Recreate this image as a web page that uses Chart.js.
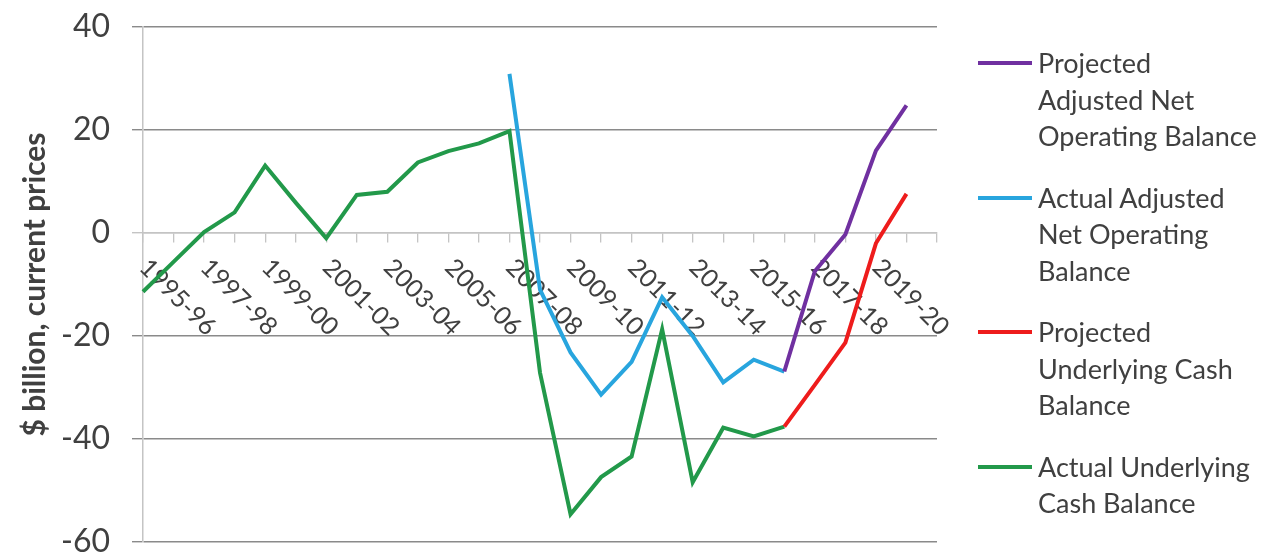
<!DOCTYPE html>
<html>
<head>
<meta charset="utf-8">
<script src="https://cdn.jsdelivr.net/npm/chart.js@4/dist/chart.umd.min.js"></script>
<style>
  html, body { margin: 0; padding: 0; background: #fff; }
  #wrap { position: relative; width: 1272px; height: 556px; }
  #chart { position: absolute; left: 0; top: 0; }
  #legend {
    position: absolute; left: 978px; top: 45px;
    font-family: Lato, sans-serif; font-size: 27px; line-height: 36.5px; color: #404040;
  }
  .item { display: flex; align-items: flex-start; margin-bottom: 25px; }
  .swatch { width: 54px; height: 4px; margin-top: 16px; margin-right: 6px; flex: none; }
</style>
</head>
<body>
<div id="wrap">
  <canvas id="chart" width="1272" height="556"></canvas>
  <div id="legend"></div>
</div>
<script>
const categories = [
  '1995-96', '1996-97', '1997-98', '1998-99', '1999-00', '2000-01', '2001-02',
  '2002-03', '2003-04', '2004-05', '2005-06', '2006-07', '2007-08', '2008-09',
  '2009-10', '2010-11', '2011-12', '2012-13', '2013-14', '2014-15', '2015-16',
  '2016-17', '2017-18', '2018-19', '2019-20', '2020-21', '',
];
const tickLabels = [
  '1995-96', '1997-98', '1999-00', '2001-02', '2003-04', '2005-06', '2007-08',
  '2009-10', '2011-12', '2013-14', '2015-16', '2017-18', '2019-20',
];
const yTicks = [-60, -40, -20, 0, 20, 40];

// $ billion; null where the series has no value
const projectedAnob = [
  null, null, null, null, null, null, null, null, null, null, null, null, null,
  null, null, null, null, null, null, null, null, -26.9, -7.4, -0.3, 16.0, 24.8, null,
];
const actualAnob = [
  null, null, null, null, null, null, null, null, null, null, null, null, 30.9,
  -11.0, -23.2, -31.4, -25.0, -12.5, -20.0, -29.0, -24.6, -26.9, null, null, null, null, null,
];
const projectedUcb = [
  null, null, null, null, null, null, null, null, null, null, null, null, null,
  null, null, null, null, null, null, null, null, -37.6, -29.5, -21.3, -2.0, 7.6, null,
];
const actualUcb = [
  -11.4, -5.6, 0.2, 4.0, 13.1, 5.9, -1.0, 7.4, 8.0, 13.7, 15.9, 17.4, 19.8,
  -27.1, -54.6, -47.4, -43.4, -18.7, -48.4, -37.8, -39.5, -37.6, null, null, null, null, null,
];

const seriesNames = [
  ['Projected', 'Adjusted Net', 'Operating Balance'],
  ['Actual Adjusted', 'Net Operating', 'Balance'],
  ['Projected', 'Underlying Cash', 'Balance'],
  ['Actual Underlying', 'Cash Balance'],
];
const seriesColors = ['#7030A0', '#28A5DE', '#EE1C1C', '#22994A'];
const seriesValues = [projectedAnob, actualAnob, projectedUcb, actualUcb];
const drawOrder = [0, 1, 2, 3];

const FONT = 'Lato, sans-serif';
const TEXT = '#404040';
const GRID = '#8A8A8A';
const AXIS = '#C4C4C4';

// category labels hang from the zero line, slanted down to the right
const slantedLabels = {
  id: 'slantedLabels',
  beforeDatasetsDraw(chart) {
    const { ctx, scales: { x, y } } = chart;
    const base = y.getPixelForValue(0);
    ctx.save();
    ctx.font = `25px ${FONT}`;
    ctx.fillStyle = TEXT;
    ctx.textAlign = 'left';
    ctx.textBaseline = 'alphabetic';
    categories.forEach((cat, i) => {
      if (!tickLabels.includes(cat)) return;
      ctx.save();
      ctx.translate(x.getPixelForValue(i) - 5, base + 36);
      ctx.rotate(Math.PI / 4);
      ctx.fillText(cat, 0, 0);
      ctx.restore();
    });
    ctx.restore();
  },
};

function buildDatasets() {
  return seriesNames.map((name, i) => ({
    label: name.join(' '),
    data: seriesValues[i],
    borderColor: seriesColors[i],
    backgroundColor: seriesColors[i],
    borderWidth: 4,
    pointRadius: 0,
    tension: 0,
    fill: false,
    order: drawOrder[i],
  }));
}

function renderLegend() {
  const el = document.getElementById('legend');
  seriesNames.forEach((lines, i) => {
    const item = document.createElement('div');
    item.className = 'item';
    item.innerHTML = `<span class="swatch" style="background:${seriesColors[i]}"></span>
      <span>${lines.join('<br>')}</span>`;
    el.appendChild(item);
  });
}

function renderChart() {
  new Chart(document.getElementById('chart'), {
    type: 'line',
    data: { labels: categories, datasets: buildDatasets() },
    plugins: [slantedLabels],
    options: {
      responsive: false,
      animation: false,
      layout: { padding: { left: 0, right: 335, top: 27, bottom: 14 } },
      plugins: { legend: { display: false }, tooltip: { enabled: false } },
      scales: {
        x: {
          type: 'category',
          offset: false,
          position: { y: 0 },
          afterFit(scale) { scale.height = 0; },
          ticks: { display: false },
          grid: { drawOnChartArea: false, drawTicks: true, tickLength: 9, color: AXIS, lineWidth: 1.3 },
          border: { color: AXIS, width: 1.5 },
        },
        y: {
          min: yTicks[0],
          max: yTicks[yTicks.length - 1],
          afterBuildTicks(scale) { scale.ticks = yTicks.map((v) => ({ value: v })); },
          afterFit(scale) {
            scale.width = 143;
            // tick labels may overhang the plot edges, as in the original
            scale.paddingTop = 0;
            scale.paddingBottom = 0;
          },
          ticks: { padding: 22, color: TEXT, font: { family: FONT, size: 32 } },
          grid: {
            color: (c) => (c.tick && c.tick.value === 0 ? AXIS : GRID),
            lineWidth: 1.4,
            tickLength: 11,
          },
          border: { color: AXIS, width: 1.5 },
          title: {
            display: true,
            text: '$ billion, current prices',
            color: TEXT,
            font: { family: FONT, size: 30, weight: 'bold' },
            padding: { top: 17, bottom: 0 },
          },
        },
      },
    },
  });
}

renderLegend();
renderChart();
</script>
</body>
</html>
